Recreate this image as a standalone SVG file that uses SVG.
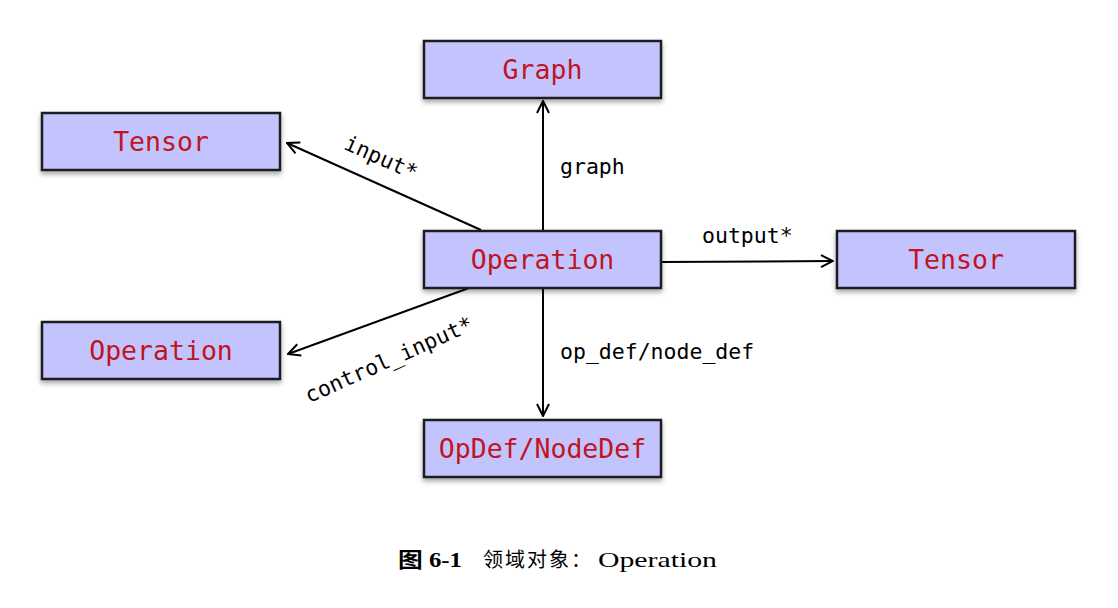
<svg xmlns="http://www.w3.org/2000/svg" width="1118" height="608" viewBox="0 0 1118 608">
<style>
.box{fill:#c3c3fe;stroke:#1f1f24;stroke-width:2.5;filter:url(#sh)}
.nt{font-family:"DejaVu Sans Mono","Liberation Mono",monospace;font-size:26.5px;fill:#c0141e;text-anchor:middle}
.lb{font-family:"DejaVu Sans Mono","Liberation Mono",monospace;font-size:21.5px;fill:#000}
.ed{stroke:#000;stroke-width:2;fill:none;marker-end:url(#ah)}
.cap{font-family:"Liberation Serif","Noto Sans CJK SC",serif;font-size:21px;fill:#000}
</style>
<defs>
<filter id="sh" x="-10%" y="-20%" width="120%" height="160%">
<feDropShadow dx="0" dy="3" stdDeviation="2.5" flood-color="#000" flood-opacity="0.35"/>
</filter>
<marker id="ah" viewBox="0 0 14 14" refX="13" refY="7" markerWidth="14" markerHeight="14" markerUnits="userSpaceOnUse" orient="auto">
<path d="M1,1 L13,7 L1,13" fill="none" stroke="#000" stroke-width="2"/>
</marker>
</defs>
<rect width="1118" height="608" fill="#fff"/>
<g id="connectors">
<line class="ed" x1="543" y1="231" x2="543" y2="101"/>
<line class="ed" x1="481" y1="230" x2="287" y2="143"/>
<line class="ed" x1="661" y1="262" x2="833" y2="261"/>
<line class="ed" x1="469" y1="288" x2="288" y2="354"/>
<line class="ed" x1="543" y1="288" x2="543" y2="416"/>
<text class="lb" x="560" y="174">graph</text>
<text class="lb" x="702" y="243">output*</text>
<text class="lb" x="560" y="359">op_def/node_def</text>
<text class="lb" text-anchor="middle" transform="translate(381,158) rotate(24)" y="7">input*</text>
<text class="lb" text-anchor="middle" transform="translate(389,360) rotate(-24)" y="7">control_input*</text>
</g>
<g id="graph"><rect class="box" x="424" y="41" width="237" height="57"/><text class="nt" x="542.5" y="78.5">Graph</text></g>
<g id="tensor_in"><rect class="box" x="42" y="113" width="238" height="57"/><text class="nt" x="161" y="150.5">Tensor</text></g>
<g id="operation"><rect class="box" x="424" y="231" width="237" height="57"/><text class="nt" x="542.5" y="268.5">Operation</text></g>
<g id="tensor_out"><rect class="box" x="837" y="231" width="238" height="57"/><text class="nt" x="956" y="268.5">Tensor</text></g>
<g id="operation_ctrl"><rect class="box" x="42" y="322" width="238" height="57"/><text class="nt" x="161" y="359.5">Operation</text></g>
<g id="opdef"><rect class="box" x="424" y="420" width="237" height="57"/><text class="nt" x="542.5" y="457.5">OpDef/NodeDef</text></g>
<text class="cap" y="567"><tspan x="398" font-weight="bold" textLength="64" lengthAdjust="spacingAndGlyphs">图 6-1</tspan><tspan x="483" font-size="20" textLength="108" lengthAdjust="spacing">领域对象：</tspan><tspan x="598" textLength="119" lengthAdjust="spacingAndGlyphs">Operation</tspan></text>
</svg>
